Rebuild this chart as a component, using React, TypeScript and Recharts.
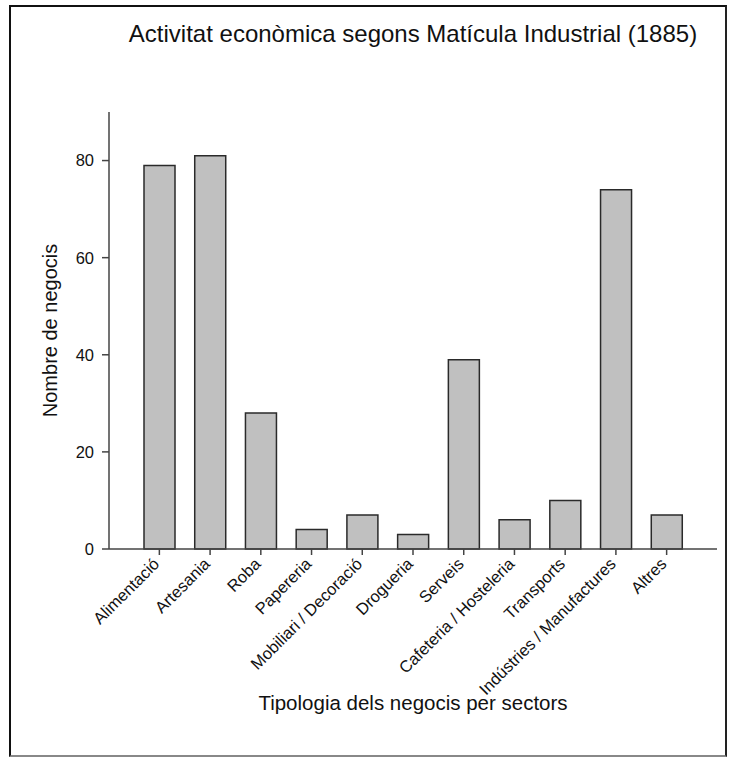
import React from "react"
import { Bar, BarChart, XAxis, YAxis, Label } from "recharts"

const categories = [
    "Alimentació",
    "Artesania",
    "Roba",
    "Papereria",
    "Mobiliari / Decoració",
    "Drogueria",
    "Serveis",
    "Cafeteria / Hosteleria",
    "Transports",
    "Indústries / Manufactures",
    "Altres"
]
const negocis = [79, 81, 28, 4, 7, 3, 39, 6, 10, 74, 7]
const yTicks = [0, 20, 40, 60, 80]

const FONT = "'Liberation Sans', Arial, sans-serif"

const chartData = categories.map((name, i) => ({ name, value: negocis[i] }))

function AngledTick(props: any) {
    const { x, y, payload } = props
    const ax = x + 1
    const ay = y + 8
    return (
        <text
            x={ax}
            y={ay}
            transform={`rotate(-45 ${ax} ${ay})`}
            textAnchor="end"
            fontSize={16.5}
            fontFamily={FONT}
            fill="#111"
        >
            {payload.value}
        </text>
    )
}

function YTitle(props: any) {
    const { viewBox } = props
    const cx = 50
    const cy = viewBox.y + viewBox.height / 2
    return (
        <text
            x={cx}
            y={cy}
            transform={`rotate(-90 ${cx} ${cy})`}
            textAnchor="middle"
            dominantBaseline="central"
            fontSize={20}
            fontFamily={FONT}
            fill="#111"
        >
            Nombre de negocis
        </text>
    )
}

function XTitle(props: any) {
    const { viewBox } = props
    const cx = viewBox.x + viewBox.width / 2
    return (
        <text x={cx} y={710} textAnchor="middle" fontSize={20.5} fontFamily={FONT} fill="#111">
            Tipologia dels negocis per sectors
        </text>
    )
}

export default function App() {
    return (
        <div style={{ position: "absolute", left: 0, top: 0, width: 730, height: 758, background: "#fff", fontFamily: FONT }}>
            <div
                style={{
                    position: "absolute",
                    left: 9,
                    top: 5,
                    width: 714,
                    height: 748,
                    borderLeft: "2px solid #111",
                    borderTop: "2px solid #111",
                    borderRight: "2px solid #222",
                    borderBottom: "2px solid #888"
                }}
            />
            <div
                style={{
                    position: "absolute",
                    left: 0,
                    width: 826,
                    top: 20,
                    textAlign: "center",
                    fontSize: 24,
                    color: "#111",
                    lineHeight: "28px"
                }}
            >
                Activitat econòmica segons Matícula Industrial (1885)
            </div>
            <div style={{ position: "absolute", left: 0, top: 0 }}>
                <BarChart width={730} height={758} data={chartData} margin={{ top: 112, right: 13, left: 0, bottom: 0 }}>
                    <XAxis
                        dataKey="name"
                        interval={0}
                        height={209}
                        padding={{ left: 25, right: 25 }}
                        tickSize={6}
                        tick={<AngledTick />}
                        stroke="#444"
                        strokeWidth={1.5}
                    >
                        <Label content={<XTitle />} />
                    </XAxis>
                    <YAxis
                        width={109}
                        domain={[0, 90]}
                        ticks={yTicks}
                        tickSize={7}
                        tickMargin={8}
                        stroke="#444"
                        strokeWidth={1.5}
                        tick={{ fill: "#111", fontSize: 16.5, fontFamily: FONT }}
                    >
                        <Label content={<YTitle />} />
                    </YAxis>
                    <Bar
                        dataKey="value"
                        barSize={31}
                        fill="#c0c0c0"
                        stroke="#2a2a2a"
                        strokeWidth={1.5}
                        isAnimationActive={false}
                    />
                </BarChart>
            </div>
        </div>
    )
}
